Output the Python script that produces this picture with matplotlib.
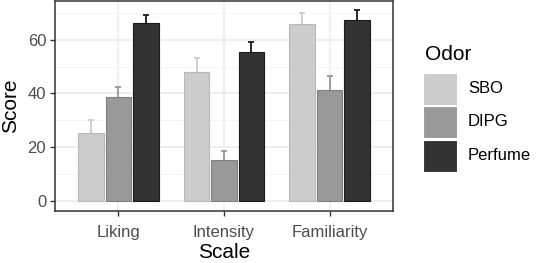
import numpy as np
import matplotlib.pyplot as plt
from matplotlib.patches import Rectangle

plt.rcParams['font.family'] = ['Liberation Sans', 'DejaVu Sans']

# data
scales = ["Liking", "Intensity", "Familiarity"]
odors = ["SBO", "DIPG", "Perfume"]
sbo = [25.3, 47.9, 65.6]
dipg = [38.6, 15.5, 41.4]
perfume = [66.1, 55.3, 67.2]
sbo_err = [4.8, 5.1, 4.2]
dipg_err = [3.8, 3.2, 5.2]
perfume_err = [3.0, 3.7, 3.7]

fills = ["#cccccc", "#999999", "#333333"]
edges = ["#b8b8b8", "#808080", "#1a1a1a"]

W, H = 536, 263
fig = plt.figure(figsize=(W / 100, H / 100), dpi=100)
ax = fig.add_axes([55 / W, 1 - 211 / H, 338 / W, 210 / H])

x = np.arange(1, len(scales) + 1)
step = 0.26
bar_w = 0.24
series = [sbo, dipg, perfume]
errs = [sbo_err, dipg_err, perfume_err]
for i, (vals, err) in enumerate(zip(series, errs)):
    pos = x + (i - 1) * step
    ax.errorbar(pos, vals, yerr=err, fmt="none", ecolor=fills[i] if i < 2 else "#1a1a1a",
                elinewidth=1.3, capsize=2.2, capthick=1.3, zorder=2)
    ax.bar(pos, vals, width=bar_w, color=fills[i], edgecolor=edges[i],
           linewidth=0.8, zorder=3)

ax.set_xlim(0.4, 3.6)
ax.set_ylim(-3.6, 74.3)
ax.set_xticks(x)
ax.set_xticklabels(scales)
ax.set_yticks([0, 20, 40, 60])
ax.set_yticks([10, 30, 50, 70], minor=True)
ax.set_xlabel("Scale", fontsize=15, labelpad=2)
ax.set_ylabel("Score", fontsize=15)
ax.yaxis.set_label_coords(-35 / 338, 0.5)

ax.grid(True, which="major", color="#ebebeb", linewidth=1.1, zorder=0)
ax.grid(True, which="minor", axis="y", color="#f2f2f2", linewidth=0.6, zorder=0)
ax.set_axisbelow(True)
for s in ax.spines.values():
    s.set_color("#333333")
    s.set_linewidth(1.1)
ax.tick_params(axis="both", which="major", length=3.3, width=1, color="#333333",
               labelsize=12, labelcolor="#4d4d4d")
ax.tick_params(axis="x", pad=7)
ax.tick_params(axis="y", pad=3)
ax.tick_params(axis="y", which="minor", length=0)

# legend drawn by hand in pixel coords (ggplot style keys)
fig.text(425 / W, 1 - 60 / H, "Odor", fontsize=15, ha="left", va="baseline")
key_tops = [72.7, 106, 139.5]
for i, top in enumerate(key_tops):
    fig.patches.append(Rectangle((423.3 / W, 1 - (top + 32) / H), 33.4 / W, 32 / H,
                                 transform=fig.transFigure, facecolor=fills[i],
                                 edgecolor="white", linewidth=0.8))
    fig.text(468 / W, 1 - (top + 16) / H, odors[i], fontsize=12, ha="left", va="center")

fig.savefig("out.png", dpi=100)
